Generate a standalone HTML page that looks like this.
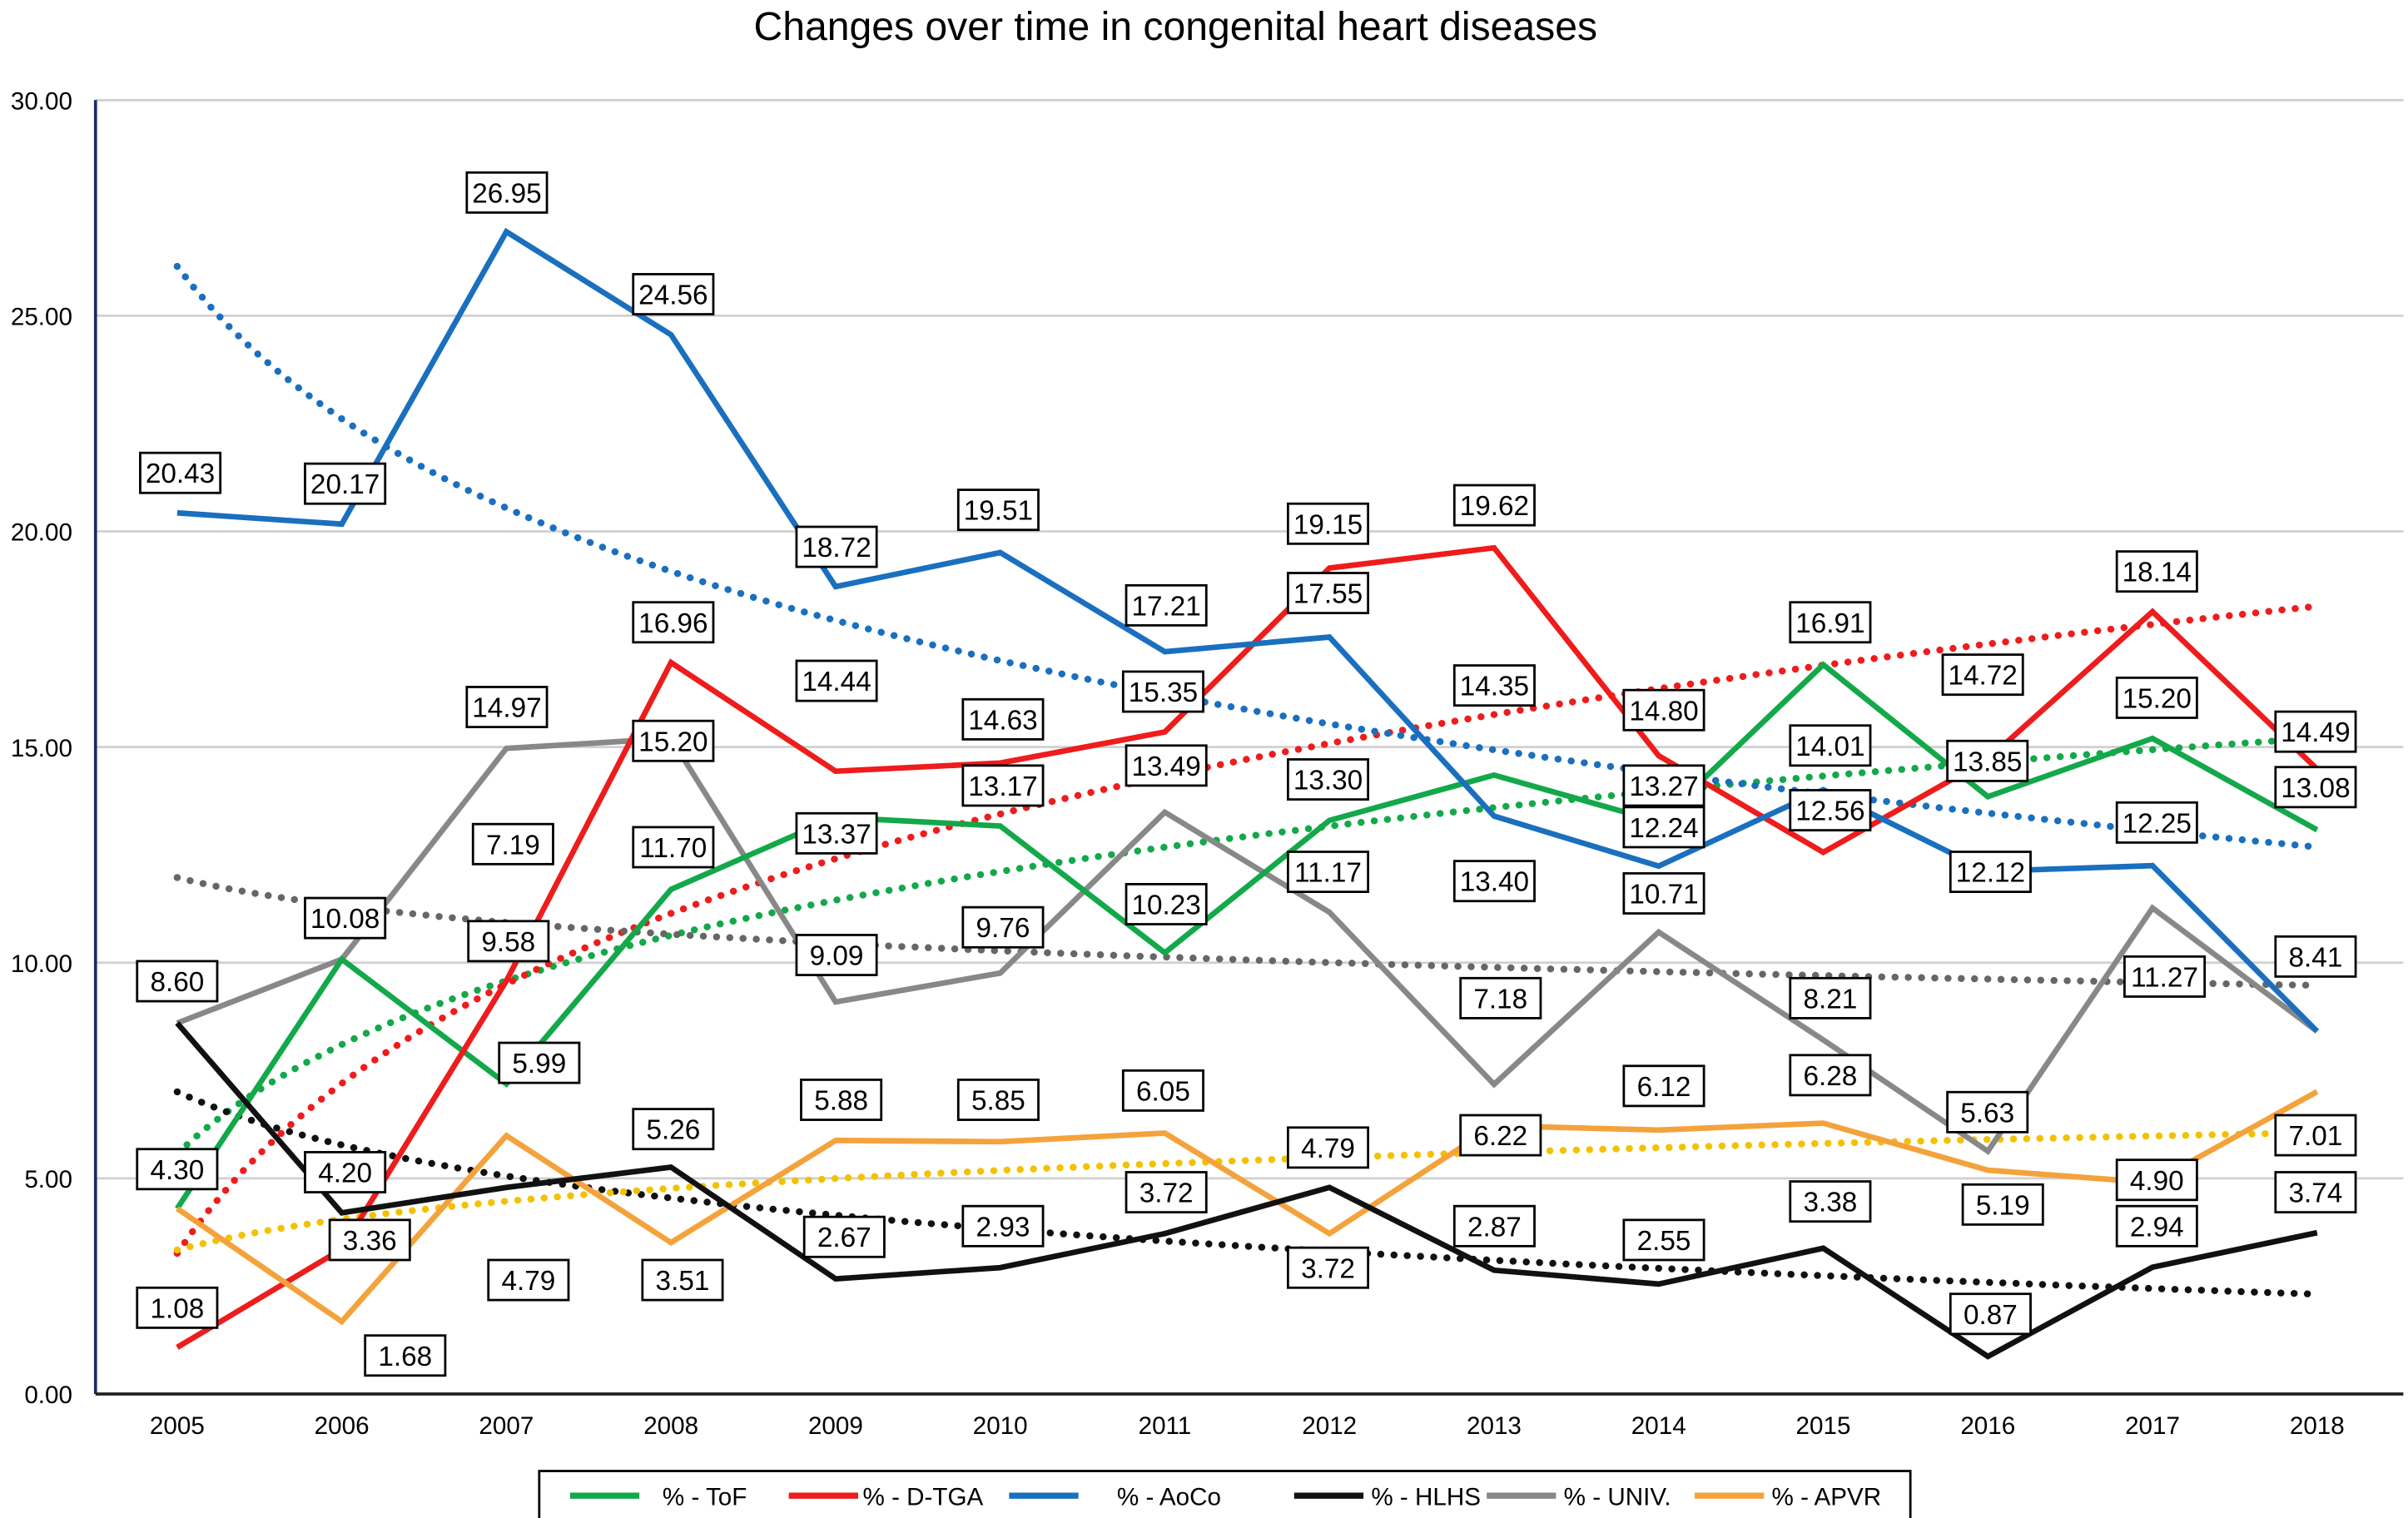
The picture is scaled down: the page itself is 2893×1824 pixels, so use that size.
<!DOCTYPE html>
<html><head><meta charset="utf-8"><style>
html,body{margin:0;padding:0;background:#fff}
svg{display:block}
text{font-family:"Liberation Sans",Arial,sans-serif;fill:#000}
</style></head><body>
<svg id="chart" width="2893" height="1824" viewBox="0 0 1563 985.5" preserveAspectRatio="none" xmlns="http://www.w3.org/2000/svg">
<text x="763" y="26" font-size="26" text-anchor="middle">Changes over time in congenital heart diseases</text>
<g id="grid"></g><g id="trends"></g><g id="lines"></g><g id="labels"></g><g id="axes"></g>
<g>
<rect x="350" y="955" width="890" height="32" fill="#fff" stroke="#000" stroke-width="1.5"/>
<g id="legend"></g>
</g>
</svg>
<script>
const years=[2005,2006,2007,2008,2009,2010,2011,2012,2013,2014,2015,2016,2017,2018];
const yTicks=[0,5,10,15,20,25,30];
const seriesNames=["% - ToF","% - D-TGA","% - AoCo","% - HLHS","% - UNIV.","% - APVR"];
const tof=[4.30,10.08,7.19,11.70,13.37,13.17,10.23,13.30,14.35,13.27,16.91,13.85,15.20,13.08];
const dtga=[1.08,3.36,9.58,16.96,14.44,14.63,15.35,19.15,19.62,14.80,12.56,14.72,18.14,14.49];
const aoco=[20.43,20.17,26.95,24.56,18.72,19.51,17.21,17.55,13.40,12.24,14.01,12.12,12.25,8.41];
const hlhs=[8.60,4.20,4.79,5.26,2.67,2.93,3.72,4.79,2.87,2.55,3.38,0.87,2.94,3.74];
const univ=[8.60,10.08,14.97,15.20,9.09,9.76,13.49,11.17,7.18,10.71,8.21,5.63,11.27,8.41];
const apvr=[4.30,1.68,5.99,3.51,5.88,5.85,6.05,3.72,6.22,6.12,6.28,5.19,4.90,7.01];
const colors=["#13a84a","#ee1c1c","#1a6fbf","#111111","#888888","#f4a23c"];
const trendColors=["#13a84a","#ee1c1c","#1a6fbf","#111111","#666666","#f2c200"];
const allSeries=[tof,dtga,aoco,hlhs,univ,apvr];
const labelPos=[
 [null,[224,596],[333,548],[437,550],[543,541],[651,510],[757,587],[862,506],[970,445],[1080,510],[1188,404],[1290,494],[1400,453],[1503,511]],
 [[115,849],[240,805],[330,611],[437,404],[543,442],[651,467],[755,449],[862,340],[970,328],[1080,461],[1188,526],[1287,438],[1400,371],[1503,475]],
 [[117,307],[224,314],[329,125],[437,191],[543,355],[648,331],[757,393],[862,385],[970,572],[1080,537],[1188,484],[1292,566],[1400,534],[1503,621]],
 [null,[224,761],[343,831],[437,733],[548,803],[651,796],[757,774],[862,745],[970,796],[1080,805],[1188,780],[1292,853],[1400,796],[1503,774]],
 [[115,637],null,[329,459],[437,481],[543,620],[651,602],[757,497],[862,566],[974,648],[1080,580],[1188,648],[1290,722],[1405,634],null],
 [[115,759],[263,880],[350,690],[443,831],[546,714],[648,714],[755,708],[862,823],[974,737],[1080,705],[1188,698],[1300,782],[1400,766],[1503,737]]
];
const X0=115,X1=1504,Y0=905,Y30=65,AXL=62,AXR=1560;
const xS=i=>X0+(X1-X0)*i/(years.length-1);
const yS=v=>Y0-(Y0-Y30)*v/30;
const NS="http://www.w3.org/2000/svg";
function mk(tag,attrs,parent){const e=document.createElementNS(NS,tag);for(const k in attrs)e.setAttribute(k,attrs[k]);parent.appendChild(e);return e;}
const grid=document.getElementById('grid'),axes=document.getElementById('axes');
yTicks.forEach(t=>{
 if(t>0){const l=mk('line',{x1:AXL,x2:AXR,y1:yS(t),y2:yS(t),stroke:'#d0d0d0','stroke-width':1.5},grid);
 
 }
 const tx=mk('text',{x:47,y:yS(t)+6,'font-size':16,'text-anchor':'end'},axes);tx.textContent=t.toFixed(2);
 
 
});
const ya=mk('line',{x1:AXL,x2:AXL,y1:yS(30),y2:Y0,stroke:'#1a2a6c','stroke-width':2},axes);


const xa=mk('line',{x1:AXL,x2:AXR,y1:Y0,y2:Y0,stroke:'#222','stroke-width':2},axes);


years.forEach((y,i)=>{const tx=mk('text',{x:xS(i),y:931,'font-size':16,'text-anchor':'middle'},axes);tx.textContent=y;
 
 });
const trends=document.getElementById('trends');
allSeries.forEach((s,k)=>{
 const n=s.length;let sx=0,sy=0,sxx=0,sxy=0;
 s.forEach((v,i)=>{const lx=Math.log(i+1);sx+=lx;sy+=v;sxx+=lx*lx;sxy+=lx*v;});
 const b=(n*sxy-sx*sy)/(n*sxx-sx*sx),a=(sy-b*sx)/n;
 let d='';for(let t=0;t<=130;t++){const i=t/10;const v=a+b*Math.log(i+1);d+=(t?'L':'M')+xS(i).toFixed(1)+','+yS(v).toFixed(1);}
 const p=mk('path',{d:d,fill:'none',stroke:trendColors[k],'stroke-width':4.5,'stroke-linecap':'round','stroke-dasharray':'0.1 8.5'},trends);
 
 
});
const lines=document.getElementById('lines'),labels=document.getElementById('labels');
const order=[4,0,1,5,3,2];
order.forEach(k=>{const s=allSeries[k];
 const p=mk('polyline',{points:s.map((v,i)=>xS(i)+','+yS(v)).join(' '),fill:'none',stroke:colors[k],'stroke-width':3.6,'stroke-linejoin':'miter'},lines);
 
 
});
const labelOrder=[1,2,3,4,5,0];
labelOrder.forEach(k=>{const s=allSeries[k];s.forEach((v,i)=>{const pos=labelPos[k][i];if(!pos)return;
 const g=mk('g',{},labels);
 
 
 mk('rect',{x:pos[0]-26,y:pos[1]-13,width:52,height:26,fill:'#fff',stroke:'#000','stroke-width':1.5},g);
 const t=mk('text',{x:pos[0],y:pos[1]+6.5,'font-size':18,'text-anchor':'middle'},g);t.textContent=v.toFixed(2);
});});
const leg=document.getElementById('legend');
const legX=[[370,430],[512,560],[655,725],[840,890],[965,1015],[1100,1150]];
seriesNames.forEach((nm,k)=>{const g=mk('g',{},leg);
 
 
 mk('line',{x1:legX[k][0],x2:legX[k][0]+45,y1:971,y2:971,stroke:colors[k],'stroke-width':4},g);
 const t=mk('text',{x:legX[k][1],y:977,'font-size':16},g);t.textContent=nm;});
</script>
</body></html>
